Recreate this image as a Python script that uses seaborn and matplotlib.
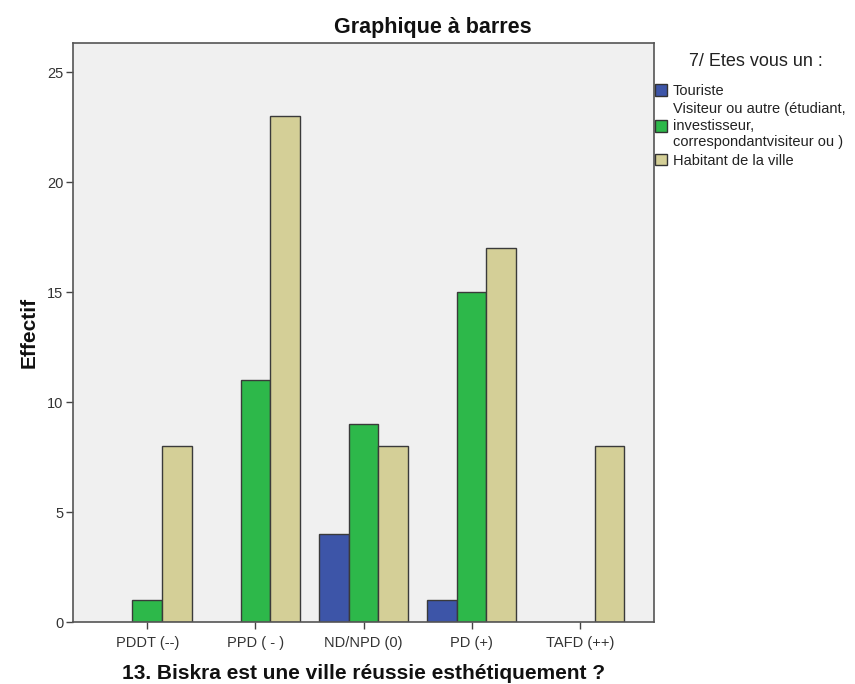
import matplotlib
matplotlib.use("Agg")
import matplotlib.pyplot as plt
from matplotlib.patches import Patch
import seaborn as sns
import pandas as pd

categories = ["PDDT (--)", "PPD ( - )", "ND/NPD (0)", "PD (+)", "TAFD (++)"]
groups = ["Touriste",
          "Visiteur ou autre (étudiant,\ninvestisseur,\ncorrespondantvisiteur ou )",
          "Habitant de la ville"]
touriste = [0, 0, 4, 1, 0]
visiteur = [1, 11, 9, 15, 0]
habitant = [8, 23, 8, 17, 8]
colors = ["#3d55a8", "#2db84a", "#d4cf97"]

sns.set_theme(style="white")
plt.rcParams["font.family"] = ["Liberation Sans", "DejaVu Sans"]

rows = []
for g, vals in zip(groups, [touriste, visiteur, habitant]):
    for c, v in zip(categories, vals):
        rows.append({"cat": c, "grp": g, "val": v})
df = pd.DataFrame(rows)
df_plot = df[df["val"] > 0]

fig = plt.figure(figsize=(8.55, 6.84), dpi=100)
ax = fig.add_axes([73/855, 1 - 622/684, (654 - 73)/855, (622 - 43)/684])
ax.set_facecolor("#f0f0f0")

sns.barplot(data=df_plot, x="cat", y="val", hue="grp", order=categories,
            hue_order=groups, palette=colors, saturation=1, width=0.82,
            edgecolor="#3a3a3a", linewidth=1.0, ax=ax, legend=False, errorbar=None)

ax.set_xlim(-0.686, 4.686)
ax.set_ylim(0, 26.32)
ax.set_yticks([0, 5, 10, 15, 20, 25])
ax.tick_params(axis="both", which="both", length=5, width=1, color="#444444",
               labelsize=10.5, labelcolor="#333333", direction="out", bottom=True, left=True)
ax.tick_params(axis="x", pad=5)
ax.tick_params(axis="y", pad=2)
for s in ax.spines.values():
    s.set_color("#555555")
    s.set_linewidth(1.2)

ax.set_xlabel("13. Biskra est une ville réussie esthétiquement ?", fontsize=15,
              fontweight="bold", color="#111111", labelpad=10)
ax.set_ylabel("Effectif", fontsize=15, fontweight="bold", color="#111111", labelpad=6)
fig.text(433/855, 1 - 28/684, "Graphique à barres", ha="center", va="center",
         fontsize=15.5, fontweight="bold", color="#111111")

fig.text(756/855, 1 - 62/684, "7/ Etes vous un :", ha="center", va="center",
         fontsize=13, color="#222222")

handles = [Patch(facecolor=c, edgecolor="#333333", linewidth=1) for c in colors]
leg = fig.legend(handles, groups, loc="upper left",
                 bbox_to_anchor=(655/855, 1 - 84/684), frameon=False,
                 fontsize=10.5, handlelength=0.85, handleheight=0.85, handletextpad=0.35,
                 labelspacing=0.3, borderaxespad=0, borderpad=0.0)
for t in leg.get_texts():
    t.set_color("#222222")
    t.set_linespacing(1.22)

fig.savefig("out.png", dpi=100)
